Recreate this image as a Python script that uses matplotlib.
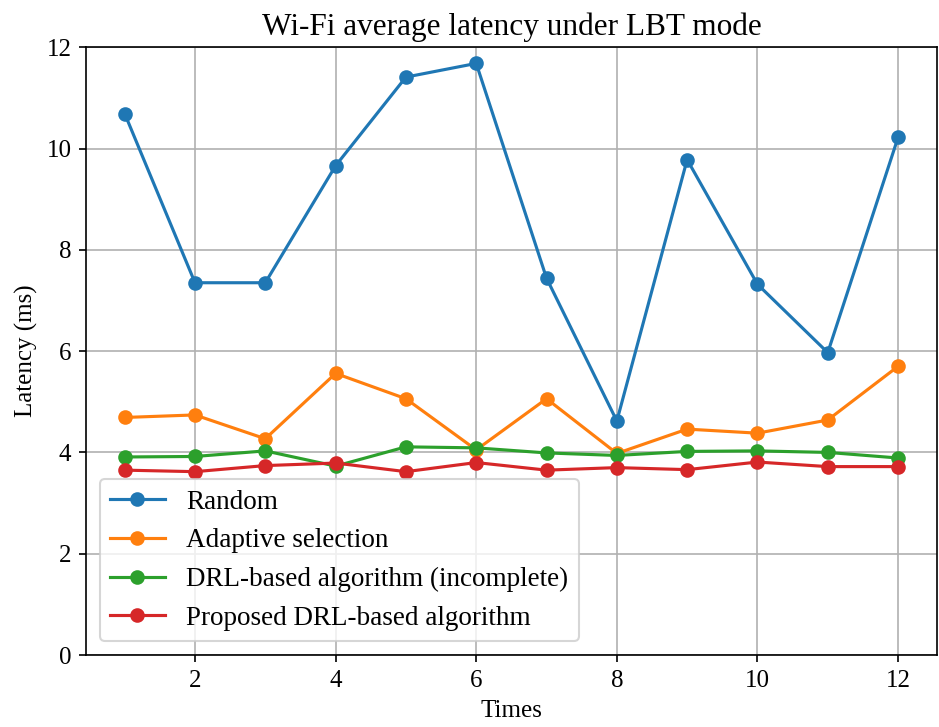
import matplotlib.pyplot as plt

plt.rcParams["font.family"] = ["Liberation Serif", "DejaVu Serif"]

times = [1, 2, 3, 4, 5, 6, 7, 8, 9, 10, 11, 12]
random_lat = [10.69, 7.35, 7.35, 9.66, 11.41, 11.68, 7.44, 4.62, 9.78, 7.32, 5.97, 10.22]
adaptive_lat = [4.69, 4.74, 4.27, 5.56, 5.06, 4.05, 5.06, 3.98, 4.46, 4.38, 4.64, 5.70]
drl_incomplete_lat = [3.91, 3.92, 4.03, 3.73, 4.11, 4.09, 3.99, 3.94, 4.02, 4.03, 4.00, 3.89]
proposed_lat = [3.65, 3.62, 3.74, 3.79, 3.62, 3.80, 3.65, 3.70, 3.66, 3.81, 3.72, 3.72]

series = [
    ("Random", random_lat),
    ("Adaptive selection", adaptive_lat),
    ("DRL-based algorithm (incomplete)", drl_incomplete_lat),
    ("Proposed DRL-based algorithm", proposed_lat),
]

fig = plt.figure(figsize=(6.26, 4.847), dpi=150)
ax = fig.add_axes([0.0916, 0.099, 0.906, 0.836])

for name, values in series:
    ax.plot(times, values, marker="o", label=name)

ax.set_ylim(0, 12)
ax.set_xticks([2, 4, 6, 8, 10, 12])
ax.tick_params(labelsize=12)
ax.grid(True)
ax.set_xlabel("Times", fontsize=12)
ax.set_ylabel("Latency (ms)", fontsize=12)
ax.set_title("Wi-Fi average latency under LBT mode", fontsize=15)
ax.legend(loc="lower left", fontsize=13)

fig.savefig("out.png", dpi=150)
